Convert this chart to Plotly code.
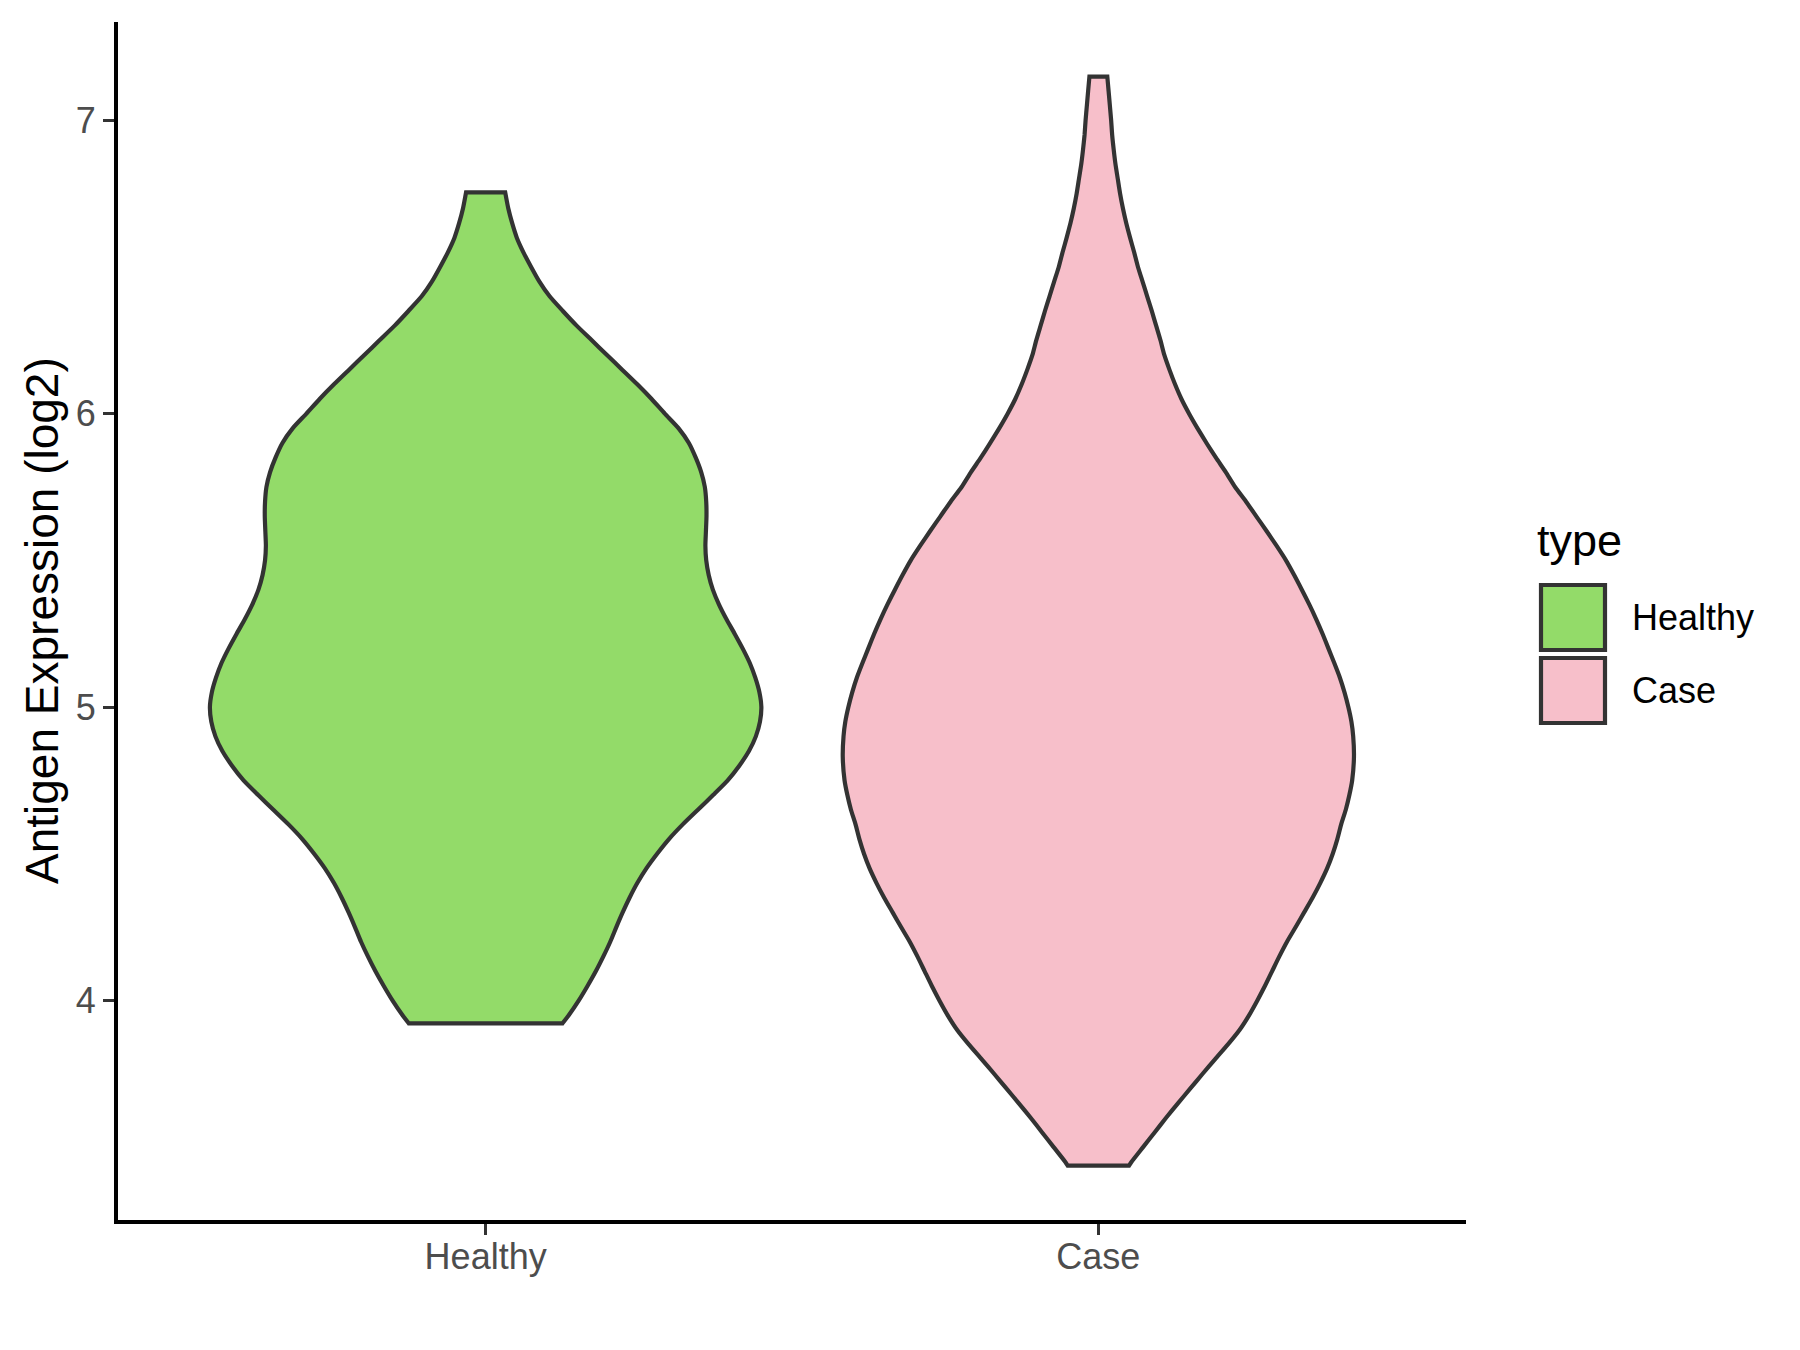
import plotly.graph_objects as go

# ---------------- data ----------------
categories = ["Healthy", "Case"]
fill_colors = ["#93DB69", "#F7BFCA"]

# density profile: expression level (log2) and relative density (peak = 1)
healthy_values = [6.754, 6.70, 6.65, 6.60, 6.55, 6.50, 6.45, 6.40, 6.35, 6.30, 6.25, 6.20,
                  6.15, 6.10, 6.05, 6.00, 5.95, 5.90, 5.85, 5.80, 5.75, 5.70, 5.65, 5.60,
                  5.55, 5.50, 5.45, 5.40, 5.35, 5.30, 5.25, 5.20, 5.15, 5.10, 5.05, 5.00,
                  4.95, 4.90, 4.85, 4.80, 4.75, 4.70, 4.65, 4.60, 4.55, 4.50, 4.45, 4.40,
                  4.35, 4.30, 4.25, 4.20, 4.15, 4.10, 4.05, 4.00, 3.95, 3.922]
healthy_density = [0.071, 0.082, 0.096, 0.113, 0.137, 0.165, 0.195, 0.232, 0.280, 0.330, 0.385, 0.440,
                   0.495, 0.550, 0.602, 0.650, 0.700, 0.737, 0.762, 0.782, 0.795, 0.800, 0.801, 0.799,
                   0.797, 0.800, 0.809, 0.824, 0.846, 0.873, 0.903, 0.932, 0.958, 0.978, 0.993, 1.000,
                   0.995, 0.980, 0.955, 0.920, 0.878, 0.825, 0.770, 0.715, 0.665, 0.622, 0.583, 0.550,
                   0.522, 0.497, 0.474, 0.452, 0.427, 0.400, 0.370, 0.338, 0.302, 0.279]

case_values = [7.149, 7.10, 7.05, 7.00, 6.95, 6.90, 6.85, 6.80, 6.75, 6.70, 6.65, 6.60,
               6.55, 6.50, 6.45, 6.40, 6.35, 6.30, 6.25, 6.20, 6.15, 6.10, 6.05, 6.00,
               5.95, 5.90, 5.85, 5.80, 5.75, 5.70, 5.65, 5.60, 5.55, 5.50, 5.45, 5.40,
               5.35, 5.30, 5.25, 5.20, 5.15, 5.10, 5.05, 5.00, 4.95, 4.90, 4.83, 4.75,
               4.70, 4.65, 4.60, 4.55, 4.50, 4.45, 4.40, 4.35, 4.30, 4.25, 4.20, 4.15,
               4.10, 4.05, 4.00, 3.95, 3.90, 3.85, 3.80, 3.75, 3.70, 3.65, 3.60, 3.55,
               3.50, 3.45, 3.437]
case_density = [0.035, 0.040, 0.045, 0.050, 0.054, 0.060, 0.067, 0.076, 0.085, 0.096, 0.109, 0.124,
                0.140, 0.155, 0.173, 0.191, 0.209, 0.226, 0.243, 0.258, 0.278, 0.300, 0.325, 0.355,
                0.388, 0.423, 0.460, 0.499, 0.535, 0.578, 0.618, 0.658, 0.697, 0.734, 0.766, 0.796,
                0.825, 0.852, 0.877, 0.900, 0.923, 0.945, 0.963, 0.978, 0.990, 0.997, 1.000, 0.993,
                0.982, 0.968, 0.950, 0.935, 0.917, 0.895, 0.868, 0.838, 0.805, 0.772, 0.738, 0.708,
                0.680, 0.652, 0.622, 0.590, 0.553, 0.507, 0.457, 0.408, 0.360, 0.312, 0.265, 0.220,
                0.175, 0.130, 0.120]

# relative peak density of each group (area scaling)
peak_density = [1.0, 0.927]

y_ticks = [4, 5, 6, 7]

# ---------------- figure ----------------
W, H = 1800, 1350
PAGE_X, PAGE_Y = 6, 8                 # offset of the plot inside the html page
L, R, T, B = 116, 1464, 22, 1220      # panel in screenshot pixels
MAX_HALF = 0.45
OUTLINE = "#333333"
FONT = "Liberation Sans, Arial, sans-serif"

profiles = [(healthy_values, healthy_density), (case_values, case_density)]

fig = go.Figure()
for i, (cat, (vals, dens)) in enumerate(zip(categories, profiles)):
    pos = i + 1
    half = [d * peak_density[i] * MAX_HALF for d in dens]
    right_x = [pos + h for h in half]
    left_x = [pos - h for h in reversed(half)]
    rv = list(reversed(vals))
    # duplicate end points so the flat top / bottom keep sharp corners
    xs = [right_x[0]] + right_x + [right_x[-1]] + [left_x[0]] + left_x + [left_x[-1]] + [right_x[0]]
    ys = [vals[0]] + list(vals) + [vals[-1]] + [rv[0]] + rv + [rv[-1]] + [vals[0]]
    fig.add_trace(go.Scatter(
        x=xs, y=ys, mode="lines", fill="toself", fillcolor=fill_colors[i],
        line=dict(color=OUTLINE, width=4.2, shape="spline", smoothing=0.6),
        name=cat, showlegend=False, hoverinfo="skip"))

def px2paper_x(px):
    return (px - L) / (R - L)

def px2paper_y(py):
    return (B - py) / (B - T)

# legend (drawn in ggplot style)
shapes = []
annotations = []
key_x0, key_x1 = 1539, 1603
key_tops = [585, 658]
key_size = 65
for i, cat in enumerate(categories):
    y0 = key_tops[i]
    shapes.append(dict(type="rect", xref="paper", yref="paper",
                       x0=px2paper_x(key_x0), x1=px2paper_x(key_x1),
                       y0=px2paper_y(y0 + key_size), y1=px2paper_y(y0),
                       fillcolor=fill_colors[i], line=dict(color=OUTLINE, width=4.2)))
    annotations.append(dict(x=px2paper_x(1628), y=px2paper_y(y0 + key_size / 2),
                            xref="paper", yref="paper", text=cat, showarrow=False,
                            xanchor="left", yanchor="middle",
                            font=dict(family=FONT, size=36, color="black")))
annotations.append(dict(x=px2paper_x(1533), y=px2paper_y(540), xref="paper", yref="paper",
                        text="type", showarrow=False, xanchor="left", yanchor="middle",
                        font=dict(family=FONT, size=45, color="black")))
# y-axis title
annotations.append(dict(x=px2paper_x(40), y=0.5, xref="paper", yref="paper",
                        text="Antigen Expression (log2)", showarrow=False, textangle=-90,
                        xanchor="center", yanchor="middle",
                        font=dict(family=FONT, size=46, color="black")))

fig.update_layout(
    width=W, height=H,
    margin=dict(l=L - PAGE_X, r=W - R + PAGE_X, t=T - PAGE_Y, b=H - B + PAGE_Y, pad=0),
    plot_bgcolor="white", paper_bgcolor="white",
    font=dict(family=FONT),
    shapes=shapes, annotations=annotations,
    showlegend=False,
    xaxis=dict(range=[0.4, 2.6], tickvals=[1, 2], ticktext=categories,
               showgrid=False, zeroline=False, showline=True, linecolor="black", linewidth=4,
               ticks="outside", ticklen=11, tickwidth=3, tickcolor=OUTLINE,
               ticklabelstandoff=-9,
               tickfont=dict(family=FONT, size=36, color="#4D4D4D")),
    yaxis=dict(range=[3.2515, 7.335], tickvals=y_ticks,
               showgrid=False, zeroline=False, showline=True, linecolor="black", linewidth=4,
               ticks="outside", ticklen=11, tickwidth=3, tickcolor=OUTLINE,
               tickfont=dict(family=FONT, size=36, color="#4D4D4D")),
)

fig.write_html("out.html")
